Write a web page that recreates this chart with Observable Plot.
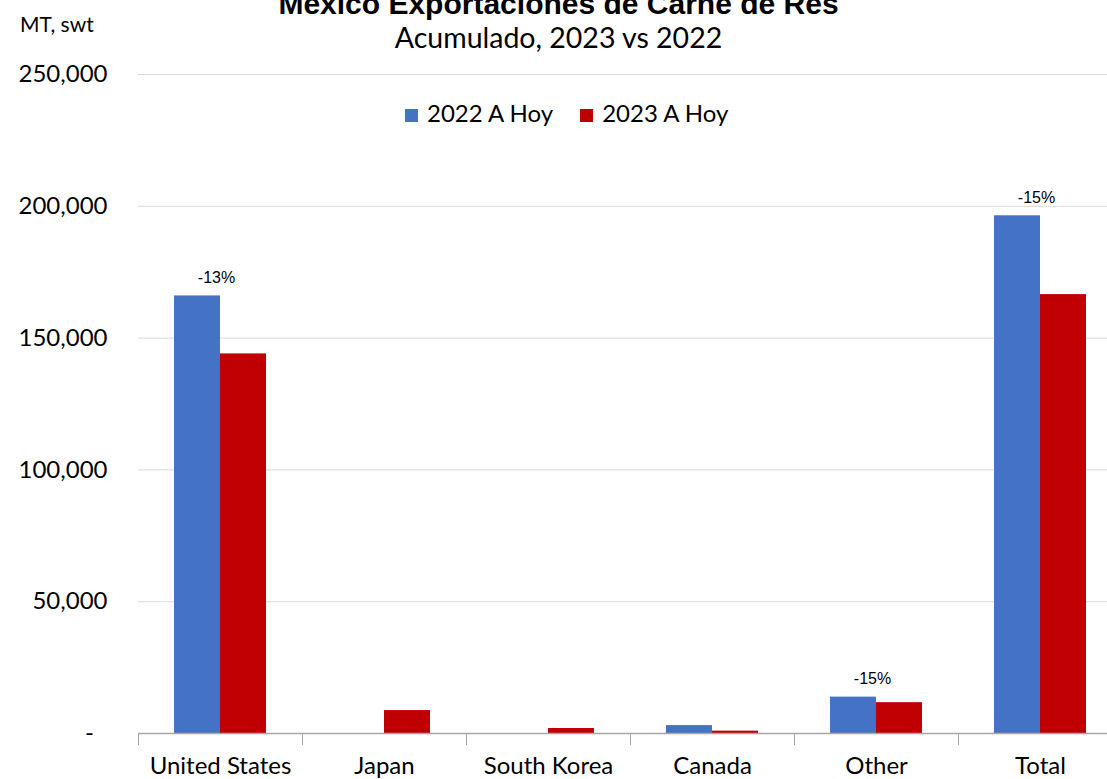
<!DOCTYPE html>
<html>
<head>
<meta charset="utf-8">
<script src="https://cdn.jsdelivr.net/npm/d3@7"></script>
<script src="https://cdn.jsdelivr.net/npm/@observablehq/plot@0.6"></script>
<style>
  html, body { margin: 0; padding: 0; background: #fff; overflow: hidden; width: 1107px; height: 779px; }
  #wrap { position: relative; width: 1107px; height: 779px; overflow: hidden; font-family: Lato, "Open Sans", sans-serif; color: #000; }
  #chart { position: absolute; left: 0; top: 0; width: 1122px; }
  #chart svg { max-width: none !important; }
  .title { position: absolute; left: 0; width: 1117px; text-align: center; top: -11px; line-height: 30px; font-family: "Liberation Sans", sans-serif; font-weight: bold; font-size: 30px; white-space: nowrap; }
  .subtitle { position: absolute; left: 0; width: 1117px; text-align: center; top: 23px; line-height: 28px; font-size: 28.5px; white-space: nowrap; }
  .unit { position: absolute; left: 20px; top: 14px; line-height: 20px; font-size: 21px; white-space: nowrap; }
  .legend { position: absolute; left: 405px; top: 101px; line-height: 24px; display: flex; gap: 27px; font-size: 24px; white-space: nowrap; }
  .legend span.sw { display: inline-block; width: 13px; height: 13px; margin-right: 9px; vertical-align: 0px; }
</style>
</head>
<body>
<div id="wrap">
  <div id="chart"></div>
  <div class="title">México Exportaciones de Carne de Res</div>
  <div class="subtitle">Acumulado, 2023 vs 2022</div>
  <div class="unit">MT, swt</div>
  <div class="legend" id="legend"></div>
</div>
<script>
const countries = ["United States", "Japan", "South Korea", "Canada", "Other", "Total"];
const series = ["2022 A Hoy", "2023 A Hoy"];
const values2022 = [166000, 0, 0, 3000, 13800, 196400];
const values2023 = [144000, 8700, 1900, 900, 11700, 166500];
const labelCountries = ["United States", "Other", "Total"];
const yTicks = [0, 50000, 100000, 150000, 200000, 250000];
const colors = ["#4472C4", "#C00000"];

const data = [];
countries.forEach((c, i) => {
  data.push({country: c, year: series[0], value: values2022[i]});
  data.push({country: c, year: series[1], value: values2023[i]});
});
const labels = labelCountries.map(c => {
  const i = countries.indexOf(c);
  return {country: c, top: Math.max(values2022[i], values2023[i]),
          label: d3.format(".0%")((values2023[i] - values2022[i]) / values2022[i]).replace("−", "-")};
});

const fmt = d => d === 0 ? "-\u2002\u200A" : d3.format(",")(d);

const chart = Plot.plot({
  width: 1122,
  height: 779,
  marginTop: 74,
  marginBottom: 46,
  marginLeft: 138,
  marginRight: 0,
  style: {fontFamily: "Lato, 'Open Sans', sans-serif", color: "#000", background: "transparent", maxWidth: "none"},
  fx: {domain: countries, padding: 0, label: null},
  x: {domain: series, paddingInner: 0, paddingOuter: 0.745, axis: null},
  y: {domain: [0, 250000], label: null},
  color: {domain: series, range: colors},
  marks: [
    Plot.gridY(yTicks, {stroke: "#d9d9d9", strokeOpacity: 1}),
    Plot.barY(data, {fx: "country", x: "year", y: "value", fill: "year"}),
    Plot.ruleY([0], {stroke: "#a6a6a6", strokeWidth: 1.5}),
    Plot.axisY(yTicks, {tickSize: 0, tickPadding: 31, fontSize: 24, tickFormat: fmt, label: null}),
    Plot.axisFx({anchor: "bottom", tickSize: 12, dx: -82, fill: "none", stroke: "#a6a6a6", label: null}),
    Plot.axisFx({anchor: "bottom", tickSize: 0, tickPadding: 23, fontSize: 24, label: null}),
    Plot.text(labels, {fx: "country", y: "top", text: "label", dy: -18, dx: -4, fontSize: 16, fontFamily: "'Liberation Sans', sans-serif", frameAnchor: "middle"})
  ]
});
document.getElementById("chart").appendChild(chart);

const legend = document.getElementById("legend");
series.forEach((s, i) => {
  const item = document.createElement("div");
  item.innerHTML = `<span class="sw" style="background:${colors[i]}"></span>${s}`;
  legend.appendChild(item);
});
</script>
</body>
</html>
